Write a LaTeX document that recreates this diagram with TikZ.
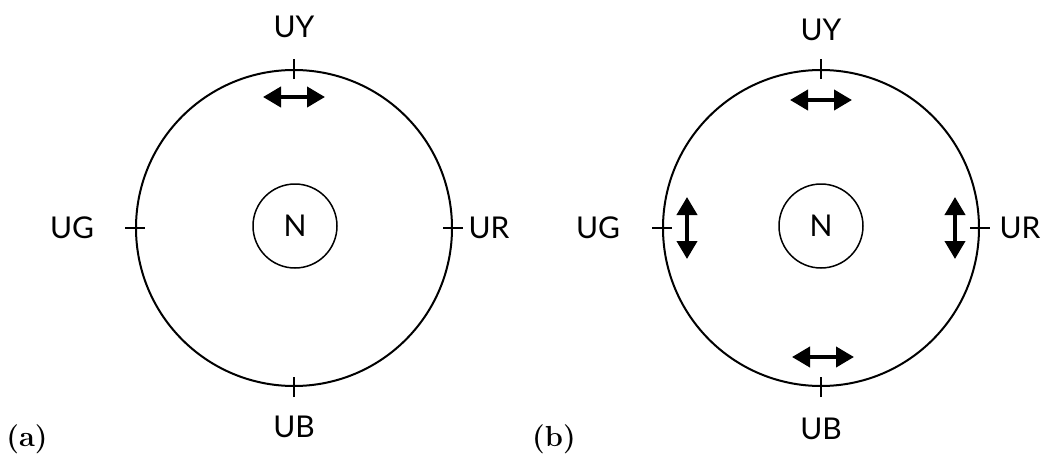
\documentclass[tikz,border=0pt]{standalone}
\usepackage{fontspec}
\setmainfont{Latin Modern Roman}
\newfontfamily\labelfont{Lato}
\usetikzlibrary{arrows.meta}
\tikzset{
  big/.style={circle,draw,line width=2pt,minimum size=316pt,inner sep=0pt},
  core/.style={circle,draw,line width=1.5pt,minimum size=84pt,inner sep=0pt,font=\labelfont\fontsize{30}{32}\selectfont},
  lbl/.style={font=\labelfont\fontsize{30}{32}\selectfont,inner sep=0pt},
  subcap/.style={font=\bfseries\fontsize{29}{31}\selectfont,inner sep=0pt,anchor=base},
  tickline/.style={line width=2pt},
  dbl/.style={line width=4pt,{Triangle[length=18pt,width=20pt]}-{Triangle[length=18pt,width=20pt]}}
}
\begin{document}
\begin{tikzpicture}[x=1pt,y=-1pt]
\useasboundingbox (0,0) rectangle (1058,453);
% ---- (a)
\node[big] (A) at (294,228) {};
\node[core] (AN) at (295,226) {N};
\node[lbl] (AUY) at (294,27) {UY};
\node[lbl] (AUB) at (294,427) {UB};
\node[lbl] (AUG) at (72,228) {UG};
\node[lbl] (AUR) at (489,228) {UR};
\node[subcap] (Acap) at (27,446) {(a)};
\draw[tickline] ([yshift=-10pt]A.north) -- ([yshift=10pt]A.north);
\draw[tickline] ([yshift=-10pt]A.south) -- ([yshift=10pt]A.south);
\draw[tickline] ([xshift=-10pt]A.west) -- ([xshift=10pt]A.west);
\draw[tickline] ([xshift=-10pt]A.east) -- ([xshift=10pt]A.east);
\coordinate (a1) at (263,97);
\coordinate (a2) at (325,97);
\draw[dbl] (a1) -- (a2);
% ---- (b)
\node[big] (B) at (821,228) {};
\node[core] (BN) at (821,226) {N};
\node[lbl] (BUY) at (821,30) {UY};
\node[lbl] (BUB) at (821,429) {UB};
\node[lbl] (BUG) at (598,228) {UG};
\node[lbl] (BUR) at (1020,228) {UR};
\node[subcap] (Bcap) at (554,446) {(b)};
\draw[tickline] ([yshift=-10pt]B.north) -- ([yshift=10pt]B.north);
\draw[tickline] ([yshift=-10pt]B.south) -- ([yshift=10pt]B.south);
\draw[tickline] ([xshift=-10pt]B.west) -- ([xshift=10pt]B.west);
\draw[tickline] ([xshift=-10pt]B.east) -- ([xshift=10pt]B.east);
\coordinate (b1) at (790,100);
\coordinate (b2) at (852,100);
\draw[dbl] (b1) -- (b2);
\coordinate (b3) at (792,357);
\coordinate (b4) at (854,357);
\draw[dbl] (b3) -- (b4);
\coordinate (b5) at (687,197);
\coordinate (b6) at (687,259);
\draw[dbl] (b5) -- (b6);
\coordinate (b7) at (955,197);
\coordinate (b8) at (955,259);
\draw[dbl] (b7) -- (b8);
\end{tikzpicture}
\end{document}
